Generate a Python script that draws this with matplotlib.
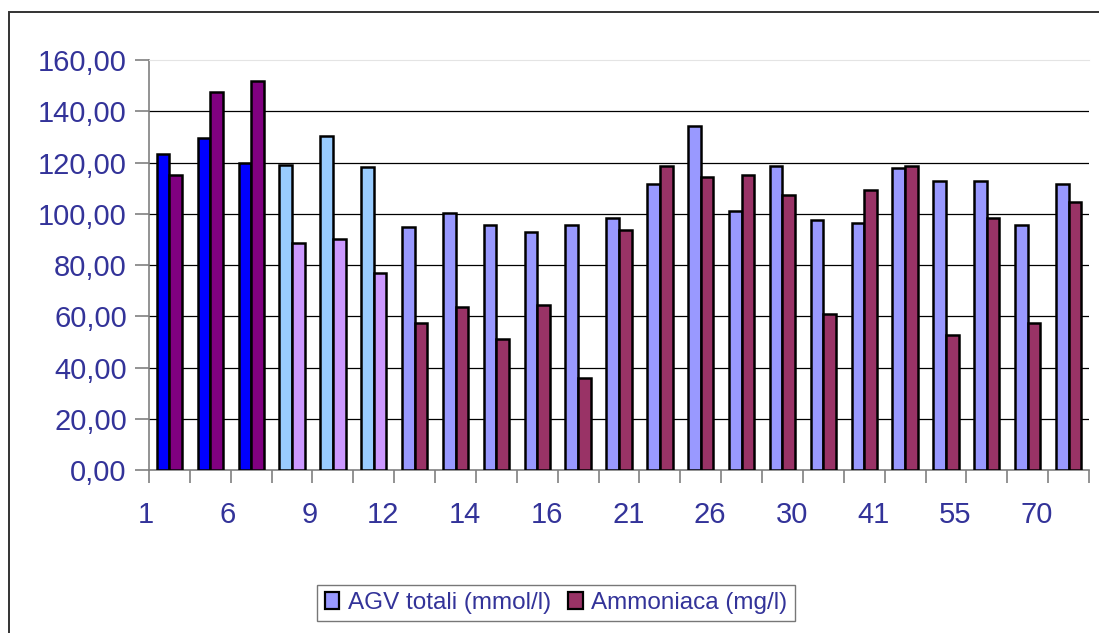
import matplotlib.pyplot as plt
import matplotlib.transforms as mtransforms
from matplotlib.patches import Rectangle, Patch
from matplotlib.ticker import FuncFormatter

# Valori per campione
agv_totali = [123.3, 129.7, 119.7, 118.9, 130.5, 118.1, 94.8, 100.2, 95.6, 92.9,
              95.6, 98.3, 111.6, 134.1, 100.9, 118.7, 97.4, 96.5, 117.8, 112.6,
              112.6, 95.6, 111.6]
ammoniaca = [115.2, 147.5, 151.9, 88.5, 90.3, 76.7, 57.2, 63.5, 51.0, 64.4,
             35.8, 93.8, 118.7, 114.3, 115.1, 107.2, 60.7, 109.1, 118.6, 52.7,
             98.3, 57.2, 104.5]
giorni = ["1", "6", "9", "12", "14", "16", "21", "26", "30", "41", "55", "70"]

plt.rcParams['font.family'] = ['Liberation Sans', 'DejaVu Sans']
text_color = '#333399'

n = len(agv_totali)
# colori: primi 3 campioni, poi 3, poi il resto
agv_colors = ['#0000FF'] * 3 + ['#99CCFF'] * 3 + ['#9999FF'] * (n - 6)
amm_colors = ['#800080'] * 3 + ['#CC99FF'] * 3 + ['#993366'] * (n - 6)

fig = plt.figure(figsize=(10.99, 6.33), dpi=100)
ax = fig.add_axes([149 / 1099, 163 / 633, 940 / 1099, 410 / 633])

x = list(range(n))
w = 0.31
ax.bar([i - w / 2 for i in x], agv_totali, width=w, color=agv_colors,
       edgecolor='black', linewidth=1.8, zorder=3)
ax.bar([i + w / 2 for i in x], ammoniaca, width=w, color=amm_colors,
       edgecolor='black', linewidth=1.8, zorder=3)

ax.set_xlim(-0.5, n - 0.5)
ax.set_ylim(0, 160)
ax.set_yticks(range(0, 161, 20))
ax.yaxis.set_major_formatter(FuncFormatter(lambda v, p: f"{v:.2f}".replace('.', ',')))

for y in range(20, 160, 20):
    ax.axhline(y, color='black', linewidth=0.9, zorder=1)

ax.spines['right'].set_visible(False)
ax.spines['top'].set_color('#e4e4e4')
ax.spines['left'].set_color('#808080')
ax.spines['bottom'].set_color('#808080')
ax.spines['left'].set_linewidth(1.2)
ax.spines['bottom'].set_linewidth(1.2)

ax.set_xticks([2 * k - 0.5 for k in range(len(giorni))])
ax.set_xticklabels(giorni)
ax.set_xticks([2 * k + 0.5 for k in range(len(giorni))], minor=True)
ax.tick_params(axis='x', which='both', direction='out', length=9, width=1.2,
               color='#808080', pad=13, labelsize=21, labelcolor=text_color)
ax.tick_params(axis='y', direction='out', length=10, width=1.2,
               color='#808080', pad=6, labelsize=21, labelcolor=text_color)

offset = mtransforms.ScaledTranslation(5 / 100, 0, fig.dpi_scale_trans)
for lbl in ax.get_xticklabels():
    lbl.set_horizontalalignment('right')
    lbl.set_transform(lbl.get_transform() + offset)

handles = [Patch(facecolor='#9999FF', edgecolor='black', linewidth=1.6),
           Patch(facecolor='#993366', edgecolor='black', linewidth=1.6)]
leg = fig.legend(handles, ['AGV totali (mmol/l)', 'Ammoniaca (mg/l)'],
                 loc='center', bbox_to_anchor=(556 / 1099, 1 - 603 / 633),
                 ncol=2, fontsize=17.5, frameon=True, fancybox=False,
                 edgecolor='#555555', handlelength=0.6, handleheight=0.7,
                 handletextpad=0.35, columnspacing=0.7, borderpad=0.3,
                 borderaxespad=0, labelcolor=text_color)
leg.get_frame().set_linewidth(1.0)

# cornice esterna dell'area del grafico
fig.patches.append(Rectangle((9 / 1099, -0.1), 1.2, (633 - 12) / 633 + 0.1,
                             transform=fig.transFigure, fill=False,
                             edgecolor='#333333', linewidth=1.4))

fig.savefig('out.png', dpi=100)
